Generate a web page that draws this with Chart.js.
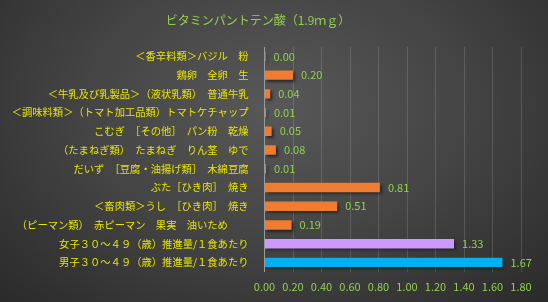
<!DOCTYPE html>
<html>
<head>
<meta charset="utf-8">
<script src="https://cdn.jsdelivr.net/npm/chart.js@4/dist/chart.umd.min.js"></script>
<style>
    html, body {
        margin: 0;
        padding: 0;
    }
    body {
        width: 548px;
        height: 302px;
        background: radial-gradient(ellipse 70% 90% at 50% 35%, #585858 0%, #444 50%, #2b2b2b 100%);
        overflow: hidden;
    }
    #wrap {
        position: relative;
        width: 548px;
        height: 302px;
    }
</style>
</head>
<body>
<div id="wrap"><canvas id="vitaminChart"></canvas></div>
<script>
const chartTitle = 'ビタミンパントテン酸（1.9ｍｇ）';

const foodLabels = [
    '＜香辛料類＞バジル　粉',
    '鶏卵　全卵　生',
    '＜牛乳及び乳製品＞（液状乳類）　普通牛乳',
    '＜調味料類＞（トマト加工品類）トマトケチャップ',
    'こむぎ　［その他］　パン粉　乾燥',
    '（たまねぎ類）　たまねぎ　りん茎　ゆで',
    'だいず　［豆腐・油揚げ類］　木綿豆腐',
    'ぶた［ひき肉］　焼き',
    '＜畜肉類＞うし　［ひき肉］　焼き',
    '（ピーマン類）　赤ピーマン　果実　油いため　　',
    '女子３０～４９（歳）推進量/１食あたり',
    '男子３０～４９（歳）推進量/１食あたり'
];

const amounts = [0.00, 0.20, 0.04, 0.01, 0.05, 0.08, 0.01, 0.81, 0.51, 0.19, 1.33, 1.67];

const barColors = [
    '#f07c32', '#f07c32', '#f07c32', '#f07c32', '#f07c32', '#f07c32',
    '#f07c32', '#f07c32', '#f07c32', '#f07c32', '#cc99ff', '#00b0f0'
];

const xTicks = [0, 0.2, 0.4, 0.6, 0.8, 1.0, 1.2, 1.4, 1.6, 1.8];

const labelGreen = '#92d050';
const labelYellow = '#e8e600';
const fontFamily = '"Noto Sans CJK JP", "Noto Sans", sans-serif';

// bar shadow
const shadowPlugin = {
    id: 'barShadow',
    beforeDatasetsDraw(chart) {
        const c = chart.ctx;
        c.save();
        c.shadowColor = 'rgba(0, 0, 0, 0.55)';
        c.shadowBlur = 3;
        c.shadowOffsetX = 2;
        c.shadowOffsetY = 2;
    },
    afterDatasetsDraw(chart) {
        chart.ctx.restore();
    }
};

// value labels at the bar ends
const valueLabelPlugin = {
    id: 'valueLabels',
    afterDatasetsDraw(chart) {
        const c = chart.ctx;
        const meta = chart.getDatasetMeta(0);
        c.save();
        c.font = '11px ' + fontFamily;
        c.fillStyle = labelGreen;
        c.textAlign = 'left';
        c.textBaseline = 'middle';
        meta.data.forEach((bar, i) => {
            c.fillText(amounts[i].toFixed(2), bar.x + 8, bar.y);
        });
        c.restore();
    }
};

// title drawn by hand so it can sit a little left of center, like the original
const titlePlugin = {
    id: 'manualTitle',
    afterDraw(chart) {
        const c = chart.ctx;
        c.save();
        c.font = '12px ' + fontFamily;
        c.fillStyle = labelGreen;
        c.textAlign = 'center';
        c.textBaseline = 'middle';
        c.fillText(chartTitle, 258, 20);
        c.restore();
    }
};

const ctx = document.getElementById('vitaminChart').getContext('2d');
const vitaminChart = new Chart(ctx, {
    type: 'bar',
    data: {
        labels: foodLabels,
        datasets: [{
            data: amounts,
            backgroundColor: barColors,
            barPercentage: 0.5,
            categoryPercentage: 1.0,
            minBarLength: 1
        }]
    },
    options: {
        indexAxis: 'y',
        responsive: true,
        maintainAspectRatio: false,
        animation: false,
        layout: {
            padding: { top: 47, right: 27, bottom: 1, left: 8 }
        },
        plugins: {
            legend: { display: false },
            title: { display: false },
            tooltip: { enabled: false }
        },
        scales: {
            x: {
                min: 0,
                max: 1.8,
                afterBuildTicks(axis) {
                    axis.ticks = xTicks.map((v) => ({ value: v }));
                },
                grid: {
                    color: 'rgba(255, 255, 255, 0.14)',
                    drawTicks: false
                },
                border: { display: false },
                ticks: {
                    color: labelGreen,
                    padding: 8,
                    font: { family: fontFamily, size: 11 },
                    callback: (v) => Number(v).toFixed(2)
                }
            },
            y: {
                grid: { display: false },
                border: { color: '#9a9a9a', width: 1 },
                ticks: {
                    color: labelYellow,
                    padding: 8,
                    autoSkip: false,
                    font: { family: fontFamily, size: 10.3 }
                }
            }
        }
    },
    plugins: [shadowPlugin, valueLabelPlugin, titlePlugin]
});
</script>
</body>
</html>
